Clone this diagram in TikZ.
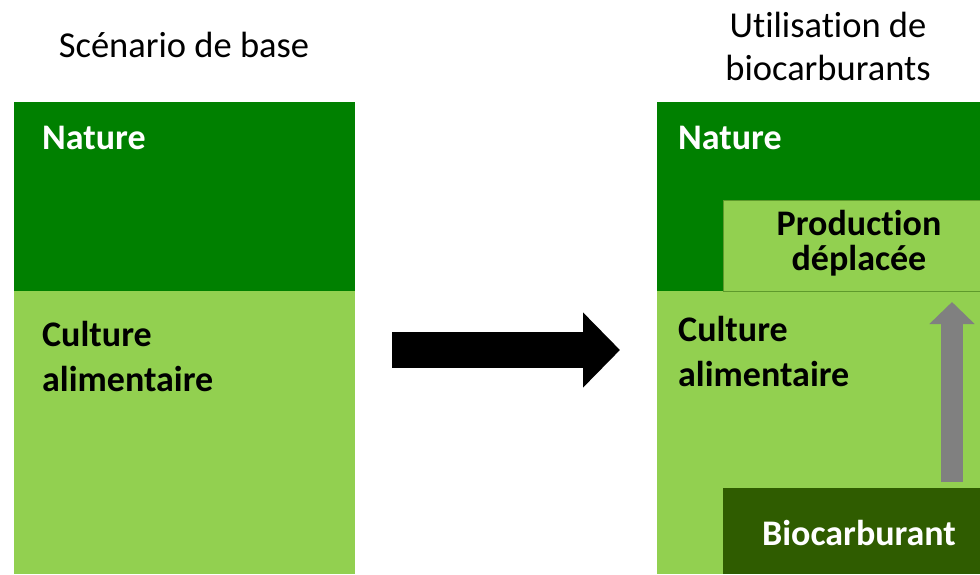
\documentclass[tikz,border=0pt]{standalone}
\usepackage{fontspec}
\setmainfont{Carlito}[Ligatures=NoCommon]
\usepackage{xcolor}
\usepackage{tikz}
\usetikzlibrary{arrows.meta,positioning,calc}
\definecolor{NatGreen}{HTML}{008000}
\definecolor{CropGreen}{HTML}{92D050}
\definecolor{BioGreen}{HTML}{2F5C00}
\definecolor{LiftGrey}{HTML}{808080}
\definecolor{EdgeGreen}{HTML}{5E9A2C}
\tikzset{
  zone/.style={draw=none,inner sep=0pt,outer sep=0pt,anchor=north west},
  zonelabel/.style={inner sep=0pt,anchor=base west,align=left,font=\fontsize{36}{45}\selectfont\bfseries},
  boxlabel/.style={inner sep=0pt,anchor=base,align=center,font=\fontsize{36}{35}\selectfont\bfseries},
  headline/.style={inner sep=0pt,anchor=base,align=center,font=\fontsize{36.5}{43}\selectfont},
  shiftarrow/.style={-{Triangle[length=37pt,width=73pt]},line width=36pt,draw=black},
  liftarrow/.style={-{Triangle[length=22pt,width=44pt]},line width=22pt,draw=LiftGrey}
}
\begin{document}
\begin{tikzpicture}[x=1pt,y=-1pt]
\useasboundingbox (0,0) rectangle (980,574);
% scenario de base
\node[zone,fill=NatGreen,minimum width=341pt,minimum height=189pt] (natL) at (14,102) {};
\node[zone,fill=CropGreen,minimum width=341pt,minimum height=283pt] (cropL) at (14,291) {};
% biocarburants
\node[zone,fill=NatGreen,minimum width=323pt,minimum height=189pt] (natR) at (657,102) {};
\node[zone,fill=CropGreen,minimum width=323pt,minimum height=283pt] (cropR) at (657,291) {};
\node[zone,fill=CropGreen,draw=EdgeGreen,line width=0.6pt,minimum width=257pt,minimum height=91pt] (prod) at (723,200) {};
\node[zone,fill=BioGreen,minimum width=257pt,minimum height=86pt] (bio) at (723,488) {};
% titles (base = last line)
\node[headline] (titleL) at (184,57) {Scénario de base};
\node[headline] (titleR) at (828,80) {Utilisation de\\biocarburants};
% labels
\node[zonelabel,text=white] (natLtxt) at ($(natL.north west)+(28,47)$) {Nature};
\node[zonelabel] (cropLtxt) at ($(cropL.north west)+(28,100)$) {Culture\\alimentaire};
\node[zonelabel,text=white] (natRtxt) at ($(natR.north west)+(21,47)$) {Nature};
\node[zonelabel] (cropRtxt) at ($(cropR.north west)+(21,95)$) {Culture\\alimentaire};
\node[boxlabel] (prodtxt) at (859,270) {Production\\déplacée};
\node[boxlabel,text=white] (biotxt) at (859,545) {Biocarburant};
% arrows
\draw[shiftarrow] ($(cropL.north east)+(37,59)$) -- ($(cropR.north west)+(-37,59)$);
\draw[liftarrow] ($(bio.north east)+(-28,-6)$) -- ($(prod.south east)+(-28,11)$);
\end{tikzpicture}
\end{document}
